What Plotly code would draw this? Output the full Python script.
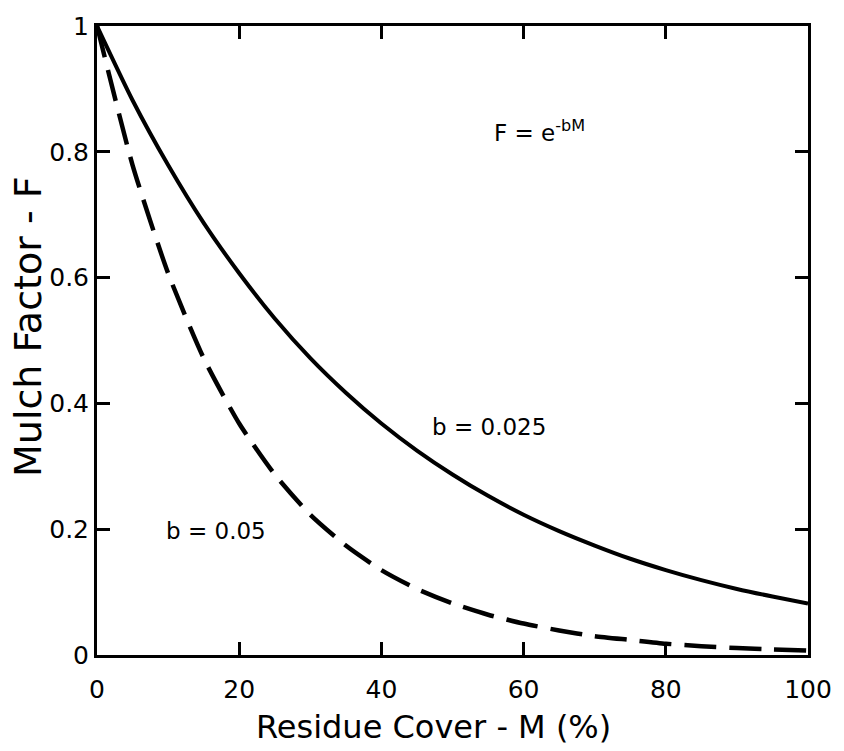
import plotly.graph_objects as go

# Residue cover M (%)
cover = [0, 5, 10, 15, 20, 25, 30, 35, 40, 45, 50, 55, 60, 65, 70, 75, 80, 85, 90, 95, 100]
# Mulch factor (b = 0.025)
f_b025 = [1.0, 0.882, 0.779, 0.687, 0.607, 0.535, 0.472, 0.417, 0.368, 0.325, 0.287, 0.253, 0.223, 0.197, 0.174, 0.153, 0.135, 0.119, 0.105, 0.093, 0.082]
# Mulch factor (b = 0.05)
f_b05 = [1.0, 0.779, 0.607, 0.472, 0.368, 0.287, 0.223, 0.174, 0.135, 0.105, 0.082, 0.064, 0.05, 0.039, 0.030, 0.024, 0.018, 0.014, 0.011, 0.009, 0.007]

x_ticks = [0, 20, 40, 60, 80, 100]
y_ticks = [0, 0.2, 0.4, 0.6, 0.8, 1]
y_ticktext = ["0", "0.2", "0.4", "0.6", "0.8", "1"]

x_title = "Residue Cover - M (%)"
y_title = "Mulch Factor - F"

FONT = "DejaVu Sans, Liberation Sans, Arial, sans-serif"

fig = go.Figure()
fig.add_trace(go.Scatter(x=cover, y=f_b025, mode="lines",
                         line=dict(color="black", width=4, shape="spline", smoothing=0.6),
                         showlegend=False, cliponaxis=False))
fig.add_trace(go.Scatter(x=cover, y=f_b05, mode="lines",
                         line=dict(color="black", width=4.5, shape="spline", smoothing=0.6, dash="32px,13px"),
                         showlegend=False, cliponaxis=False))

fig.add_annotation(x=62.3, y=0.833, text="F = e<sup>-bM</sup>", showarrow=False,
                   font=dict(size=23, color="black", family=FONT))
fig.add_annotation(x=55.2, y=0.363, text="b = 0.025", showarrow=False,
                   font=dict(size=23, color="black", family=FONT))
fig.add_annotation(x=16.7, y=0.197, text="b = 0.05", showarrow=False,
                   font=dict(size=23, color="black", family=FONT))

# axis titles
fig.add_annotation(xref="paper", yref="paper", x=0.473, y=-0.115, text=x_title,
                   showarrow=False, xanchor="center", yanchor="middle",
                   font=dict(size=32, color="black", family=FONT))
fig.add_annotation(xref="paper", yref="paper", x=-0.098, y=0.522, text=y_title,
                   showarrow=False, xanchor="center", yanchor="middle", textangle=-90,
                   font=dict(size=38, color="black", family=FONT))

axis_common = dict(showgrid=False, zeroline=False, showline=True, linecolor="black",
                   linewidth=3, mirror="ticks", ticks="inside", ticklen=13, tickwidth=3,
                   tickcolor="black", tickfont=dict(size=25, color="black", family=FONT))

fig.update_xaxes(range=[0, 100], tickvals=x_ticks, ticklabelstandoff=10, **axis_common)
fig.update_yaxes(range=[0, 1], tickvals=y_ticks, ticktext=y_ticktext, **axis_common)

fig.update_layout(width=844, height=751, margin=dict(l=97, r=33, t=22, b=96),
                  plot_bgcolor="white", paper_bgcolor="white")

fig.write_html("out.html")
